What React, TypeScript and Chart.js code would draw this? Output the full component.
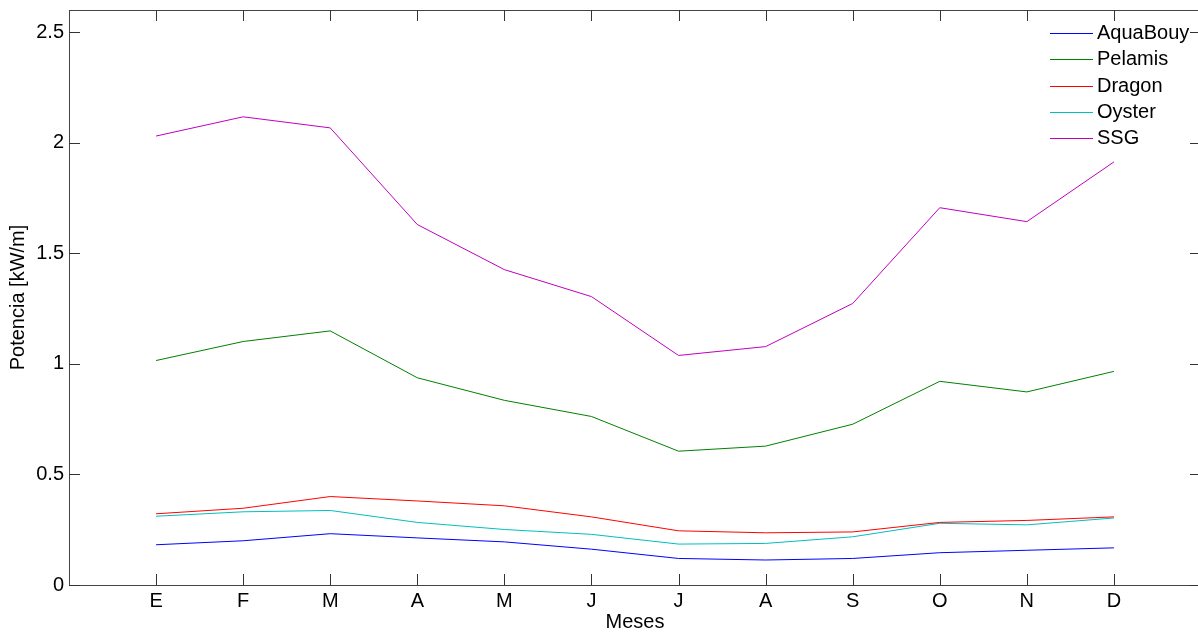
import React, { useEffect, useRef } from "react";
import { Chart, registerables } from "chart.js";

Chart.register(...registerables);

const months = ["E", "F", "M", "A", "M", "J", "J", "A", "S", "O", "N", "D"];
const aquaBouy = [0.182, 0.2, 0.232, 0.213, 0.195, 0.162, 0.12, 0.113, 0.12, 0.146, 0.157, 0.168];
const pelamis = [1.015, 1.101, 1.149, 0.937, 0.835, 0.762, 0.605, 0.628, 0.727, 0.921, 0.873, 0.966];
const dragon = [0.322, 0.347, 0.4, 0.38, 0.358, 0.308, 0.245, 0.236, 0.24, 0.283, 0.292, 0.308];
const oyster = [0.311, 0.331, 0.337, 0.283, 0.251, 0.229, 0.185, 0.188, 0.218, 0.279, 0.272, 0.303];
const ssg = [2.03, 2.117, 2.067, 1.63, 1.426, 1.304, 1.038, 1.078, 1.273, 1.706, 1.643, 1.913];

const seriesNames = ["AquaBouy", "Pelamis", "Dragon", "Oyster", "SSG"];
const seriesValues = [aquaBouy, pelamis, dragon, oyster, ssg];
const seriesColors = ["#0000ff", "#008000", "#ff0000", "#00bfbf", "#bf00bf"];

const yTicks = [0, 0.5, 1, 1.5, 2, 2.5];
const FONT = "'Liberation Sans', Arial, sans-serif";

const framePlugin = {
  id: "matlabFrame",
  afterDraw(chart: any) {
    const ctx = chart.ctx;
    const { left, right, top, bottom } = chart.chartArea;
    const xs = chart.scales.x;
    const ys = chart.scales.y;
    ctx.save();
    ctx.strokeStyle = "#444444";
    ctx.lineWidth = 1;
    ctx.strokeRect(Math.round(left) + 0.5, Math.round(top) + 0.5, Math.round(right - left), Math.round(bottom - top));
    const tl = 11;
    ctx.strokeStyle = "#333333";
    ctx.beginPath();
    months.forEach((_, i) => {
      const x = Math.round(xs.getPixelForValue(i + 1)) + 0.5;
      ctx.moveTo(x, bottom);
      ctx.lineTo(x, bottom - tl);
      ctx.moveTo(x, top);
      ctx.lineTo(x, top + tl);
    });
    yTicks.forEach((v) => {
      const y = Math.round(ys.getPixelForValue(v)) + 0.5;
      ctx.moveTo(left, y);
      ctx.lineTo(left + tl, y);
      ctx.moveTo(right, y);
      ctx.lineTo(right - tl, y);
    });
    ctx.stroke();

    // legend
    const rowH = 26.3;
    const lineX0 = 1050;
    const lineX1 = 1093;
    const textX = 1097;
    ctx.font = `20px ${FONT}`;
    ctx.textBaseline = "middle";
    ctx.textAlign = "left";
    seriesNames.forEach((name, i) => {
      const y = Math.round(top + 23 + i * rowH) + 0.5;
      ctx.strokeStyle = seriesColors[i];
      ctx.beginPath();
      ctx.moveTo(lineX0, y);
      ctx.lineTo(lineX1, y);
      ctx.stroke();
      ctx.fillStyle = "#000";
      ctx.fillText(name, textX, y);
    });
    ctx.restore();
  },
};

export default function App() {
  const ref = useRef<HTMLCanvasElement>(null);
  useEffect(() => {
    if (!ref.current) return;
    const chart = new Chart(ref.current, {
      type: "line",
      data: {
        datasets: seriesNames.map((name, i) => ({
          label: name,
          data: seriesValues[i].map((v, j) => ({ x: j + 1, y: v })),
          borderColor: seriesColors[i],
          backgroundColor: seriesColors[i],
          borderWidth: 1,
          pointRadius: 0,
          tension: 0,
          fill: false,
        })),
      },
      options: {
        responsive: false,
        animation: false,
        layout: { padding: { top: 10, right: 3, bottom: 0, left: 0 } },
        plugins: { legend: { display: false }, tooltip: { enabled: false } },
        scales: {
          x: {
            type: "linear",
            min: 0,
            max: 13,
            grid: { display: false, drawTicks: false },
            border: { display: false },
            afterFit: (s: any) => {
              s.height = 49;
              s.paddingLeft = 0;
              s.paddingRight = 0;
            },
            ticks: {
              stepSize: 1,
              autoSkip: false,
              maxRotation: 0,
              padding: 4,
              color: "#000",
              font: { family: FONT, size: 20 },
              callback: (v: any) => {
                const i = Math.round(Number(v)) - 1;
                return i >= 0 && i < months.length ? months[i] : "";
              },
            },
            title: {
              display: true,
              text: "Meses",
              color: "#000",
              font: { family: FONT, size: 20 },
              padding: { top: 0, bottom: 0 },
            },
          },
          y: {
            type: "linear",
            min: 0,
            max: 2.6,
            grid: { display: false, drawTicks: false },
            border: { display: false },
            afterFit: (s: any) => {
              s.width = 69;
              s.paddingTop = 0;
              s.paddingBottom = 0;
            },
            ticks: {
              stepSize: 0.5,
              includeBounds: false,
              padding: 5,
              color: "#000",
              font: { family: FONT, size: 20 },
              callback: (v: any) => String(Math.round(Number(v) * 10) / 10),
            },
            title: {
              display: true,
              text: "Potencia [kW/m]",
              color: "#000",
              font: { family: FONT, size: 20 },
              padding: { top: 6, bottom: 0 },
            },
          },
        },
      },
      plugins: [framePlugin],
    });
    return () => chart.destroy();
  }, []);
  return (
    <div
      style={{
        position: "fixed",
        left: 0,
        top: 0,
        width: 1198,
        height: 634,
        overflow: "hidden",
        background: "#fff",
      }}
    >
      <canvas ref={ref} width={1204} height={634} />
    </div>
  );
}
